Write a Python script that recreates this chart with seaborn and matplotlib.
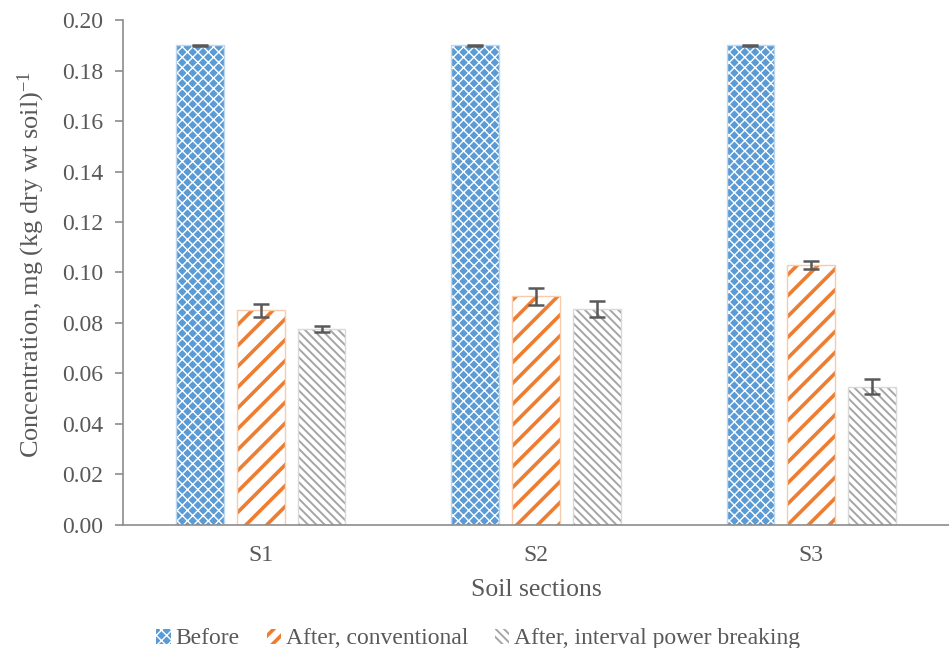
import numpy as np
import pandas as pd
import seaborn as sns
import matplotlib.pyplot as plt
from matplotlib.patches import Patch, Rectangle

# Soil sections and treatments
sections = ["S1", "S2", "S3"]
treatments = ["Before", "After, conventional", "After, interval power breaking"]

# Mean concentration, mg (kg dry wt soil)^-1, and error per section
before = [0.190, 0.190, 0.190]
before_err = [0.0002, 0.0002, 0.0002]
conventional = [0.085, 0.0905, 0.103]
conventional_err = [0.0027, 0.0033, 0.0016]
interval = [0.0776, 0.0855, 0.0547]
interval_err = [0.0013, 0.0032, 0.0030]

y_ticks = [0.00, 0.02, 0.04, 0.06, 0.08, 0.10, 0.12, 0.14, 0.16, 0.18, 0.20]

values = [before, conventional, interval]
errors = [before_err, conventional_err, interval_err]

df = pd.DataFrame({
    "section": sections * 3,
    "treatment": np.repeat(treatments, len(sections)),
    "value": before + conventional + interval,
})

DPI = 125
k = 100 / DPI  # sizes below are given for a 100 dpi canvas

sns.set_theme(style="white")
plt.rcParams["font.family"] = ["Liberation Serif", "DejaVu Serif"]
plt.rcParams["mathtext.fontset"] = "custom"
plt.rcParams["mathtext.rm"] = "Liberation Serif"
plt.rcParams["mathtext.it"] = "Liberation Serif"
plt.rcParams["hatch.linewidth"] = 1.5 * k

text_color = "#595959"
axis_color = "#8c8c8c"

# face colour, hatch colour, hatch pattern, outline colour, hatch width (pt @100dpi)
styles = {
    "Before": ("#5B9BD5", "white", "xxxx", "#BDD7EE", 1.0),
    "After, conventional": ("white", "#ED7D31", "//", "#F8CBAD", 2.6),
    "After, interval power breaking": ("white", "#A5A5A5", "\\\\\\\\\\", "#D9D9D9", 1.4),
}
# denser patterns for the small legend swatches
legend_hatches = {
    "Before": "xxxx",
    "After, conventional": "///",
    "After, interval power breaking": "\\\\\\\\\\",
}

fig = plt.figure(figsize=(949 / DPI, 648 / DPI), dpi=DPI)
ax = fig.add_axes([0.1296, 0.19, 0.8704, 0.779])

sns.barplot(
    data=df, x="section", y="value", hue="treatment",
    order=sections, hue_order=treatments,
    width=0.663, gap=0.213, errorbar=None, legend=False, ax=ax,
)

for container, name, vals, errs in zip(ax.containers, treatments, values, errors):
    face, hcol, hatch, outline, hlw = styles[name]
    xs = []
    for bar in container:
        bar.set_facecolor(face)
        bar.set_edgecolor(hcol)
        bar.set_hatch(hatch)
        bar.set_linewidth(0)
        if hasattr(bar, "set_hatch_linewidth"):
            bar.set_hatch_linewidth(hlw * k)
        ax.add_patch(Rectangle(bar.get_xy(), bar.get_width(), bar.get_height(),
                               fill=False, edgecolor=outline, linewidth=1.0 * k,
                               zorder=bar.get_zorder() + 0.1))
        xs.append(bar.get_x() + bar.get_width() / 2)
    ax.errorbar(xs, vals, yerr=errs, fmt="none", ecolor="#595959",
                elinewidth=1.8 * k, capsize=6 * k, capthick=1.8 * k, zorder=5)

ax.set_xlim(-0.5, 2.5)
ax.set_ylim(0, 0.20)
ax.set_yticks(y_ticks)
ax.set_yticklabels([f"{t:.2f}" for t in y_ticks])

for side in ["top", "right"]:
    ax.spines[side].set_visible(False)
for side in ["left", "bottom"]:
    ax.spines[side].set_color(axis_color)
    ax.spines[side].set_linewidth(1.2 * k)

ax.tick_params(axis="y", which="both", left=True, length=6 * k, width=1.2 * k,
               color=axis_color, labelsize=17 * k, labelcolor=text_color, pad=8 * k)
ax.tick_params(axis="x", bottom=False, labelsize=17 * k, labelcolor=text_color, pad=7 * k)

ax.set_xlabel("Soil sections", fontsize=18.5 * k, color=text_color, labelpad=9 * k)
ax.set_ylabel("Concentration, mg (kg dry wt soil)$^{\\mathregular{-1}}$",
              fontsize=19 * k, color=text_color)
ax.yaxis.set_label_coords(-0.092, 0.515)

handles = []
for name in treatments:
    face, hcol, hatch, outline, hlw = styles[name]
    h = Patch(facecolor=face, edgecolor=hcol, hatch=legend_hatches[name], linewidth=0, label=name)
    handles.append(h)

leg = fig.legend(handles=handles, loc="lower center", bbox_to_anchor=(0.504, -0.035),
                 ncol=3, frameon=False, fontsize=17 * k, labelcolor=text_color,
                 handlelength=0.6, handleheight=0.6, handletextpad=0.2, columnspacing=1.15)
for name, h in zip(treatments, leg.legend_handles):
    if hasattr(h, "set_hatch_linewidth"):
        h.set_hatch_linewidth(styles[name][4] * k)

fig.savefig("out.png", dpi=DPI, facecolor="white")
